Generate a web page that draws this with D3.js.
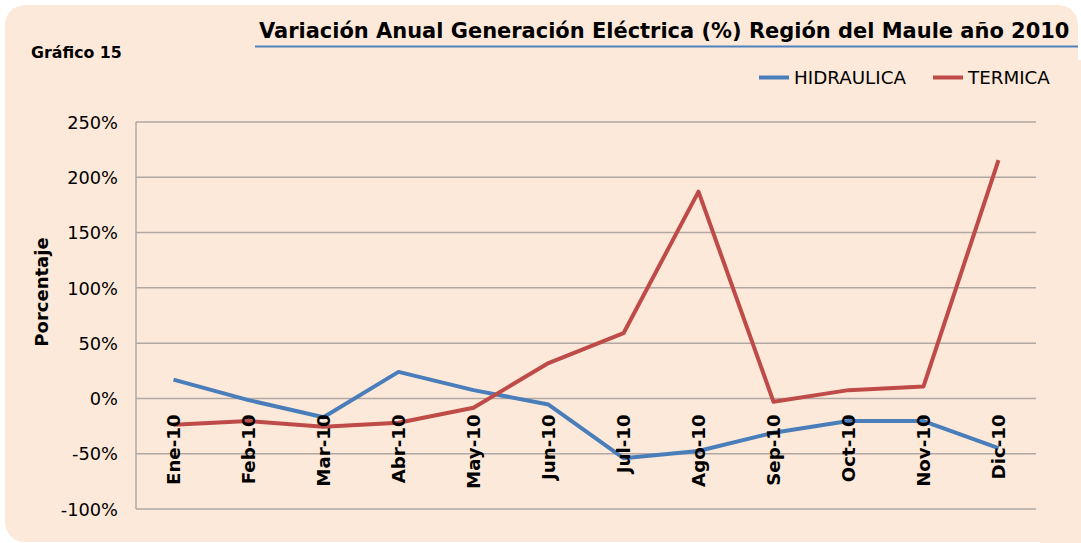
<!DOCTYPE html>
<html><head><meta charset="utf-8">
<script src="https://cdn.jsdelivr.net/npm/d3@7"></script>
<style>html,body{margin:0;padding:0;background:#fff;}svg{display:block;}</style>
</head><body>
<svg id="chart" width="1081" height="543"></svg>
<script>
const categories = ["Ene-10","Feb-10","Mar-10","Abr-10","May-10","Jun-10","Jul-10","Ago-10","Sep-10","Oct-10","Nov-10","Dic-10"];
const hidraulica = [17, -1.5, -17, 24, 7.5, -5.5, -54, -47.5, -31, -20.5, -20.5, -45];
const termica = [-23.8, -20.5, -25.6, -22, -8.4, 32, 59, 187, -3, 7.5, 10.8, 215.5];
const yTicks = [-100, -50, 0, 50, 100, 150, 200, 250];
const seriesNames = ["HIDRAULICA", "TERMICA"];
const seriesColors = ["#4A7EBB", "#BE4B48"];

const FONT = "'DejaVu Sans', Verdana, sans-serif";
const svg = d3.select("#chart");

svg.append("rect").attr("x", 5).attr("y", 5).attr("width", 1073).attr("height", 537)
  .attr("rx", 20).attr("fill", "#FDE9D9");
svg.append("rect").attr("x", 1040).attr("y", 60).attr("width", 41).attr("height", 483)
  .attr("fill", "#FDE9D9");

const pLeft = 136, pRight = 1036, pTop = 122, pBottom = 509;
const x = d3.scaleBand().domain(categories).range([pLeft, pRight]);
const y = d3.scaleLinear().domain([-100, 250]).range([pBottom, pTop]);

// gridlines
svg.append("g").selectAll("line").data(yTicks).join("line")
  .attr("x1", pLeft).attr("x2", pRight)
  .attr("y1", d => y(d)).attr("y2", d => y(d))
  .attr("stroke", "#B0A8A3").attr("stroke-width", 1.5);
svg.append("line").attr("x1", pLeft).attr("x2", pLeft).attr("y1", pTop).attr("y2", pBottom)
  .attr("stroke", "#B0A8A3").attr("stroke-width", 1.5);

// y axis labels
const yAxis = d3.axisLeft(y).tickValues(yTicks).tickFormat(d => d + "%").tickSize(0).tickPadding(0);
const yg = svg.append("g").attr("transform", `translate(${pLeft - 18},0)`).call(yAxis);
yg.select(".domain").remove();
yg.selectAll("text").attr("font-family", FONT).attr("font-size", 17.8).attr("fill", "#000").attr("dy", "0.35em");

// lines
const line = d3.line().x((d, i) => x(categories[i]) + x.bandwidth() / 2).y(d => y(d));
[hidraulica, termica].forEach((s, k) => {
  svg.append("path").datum(s).attr("d", line).attr("fill", "none")
    .attr("stroke", seriesColors[k]).attr("stroke-width", 4).attr("stroke-linejoin", "round");
});

// category labels
const xAxis = d3.axisBottom(x).tickSize(0).tickPadding(0);
const xg = svg.append("g").attr("transform", `translate(0,${y(0) + 16})`).call(xAxis);
xg.select(".domain").remove();
xg.selectAll("text").attr("font-family", FONT).attr("font-size", 18.2).attr("font-weight", "bold")
  .attr("fill", "#000").attr("text-anchor", "end").attr("dy", "0.36em").attr("y", 0)
  .attr("transform", "rotate(-90)");

// y title
svg.append("text").attr("transform", "translate(42,292) rotate(-90)")
  .attr("text-anchor", "middle").attr("dy", "0.35em")
  .attr("font-family", FONT).attr("font-size", 18).attr("font-weight", "bold").text("Porcentaje");

// Gráfico 15
svg.append("text").attr("x", 31).attr("y", 58).attr("font-family", FONT)
  .attr("font-size", 15.8).attr("font-weight", "bold").text("Gráfico 15");

// title
const title = svg.append("text").attr("x", 259).attr("y", 38).attr("font-family", FONT)
  .attr("font-size", 21).attr("font-weight", "bold")
  .text("Variación Anual Generación Eléctrica (%) Región del Maule año 2010");
const tw = title.node().getComputedTextLength();
title.attr("font-size", 21 * 811 / tw);
svg.append("line").attr("x1", 255).attr("x2", 1078).attr("y1", 46.5).attr("y2", 46.5)
  .attr("stroke", "#4F81BD").attr("stroke-width", 2);

// legend
const legX = [759, 933];
seriesNames.forEach((n, k) => {
  svg.append("line").attr("x1", legX[k]).attr("x2", legX[k] + 30).attr("y1", 77.5).attr("y2", 77.5)
    .attr("stroke", seriesColors[k]).attr("stroke-width", 4);
  svg.append("text").attr("x", legX[k] + 35).attr("y", 77.5).attr("dy", "0.35em")
    .attr("font-family", FONT).attr("font-size", 18.3).text(n);
});
</script>
</body></html>
